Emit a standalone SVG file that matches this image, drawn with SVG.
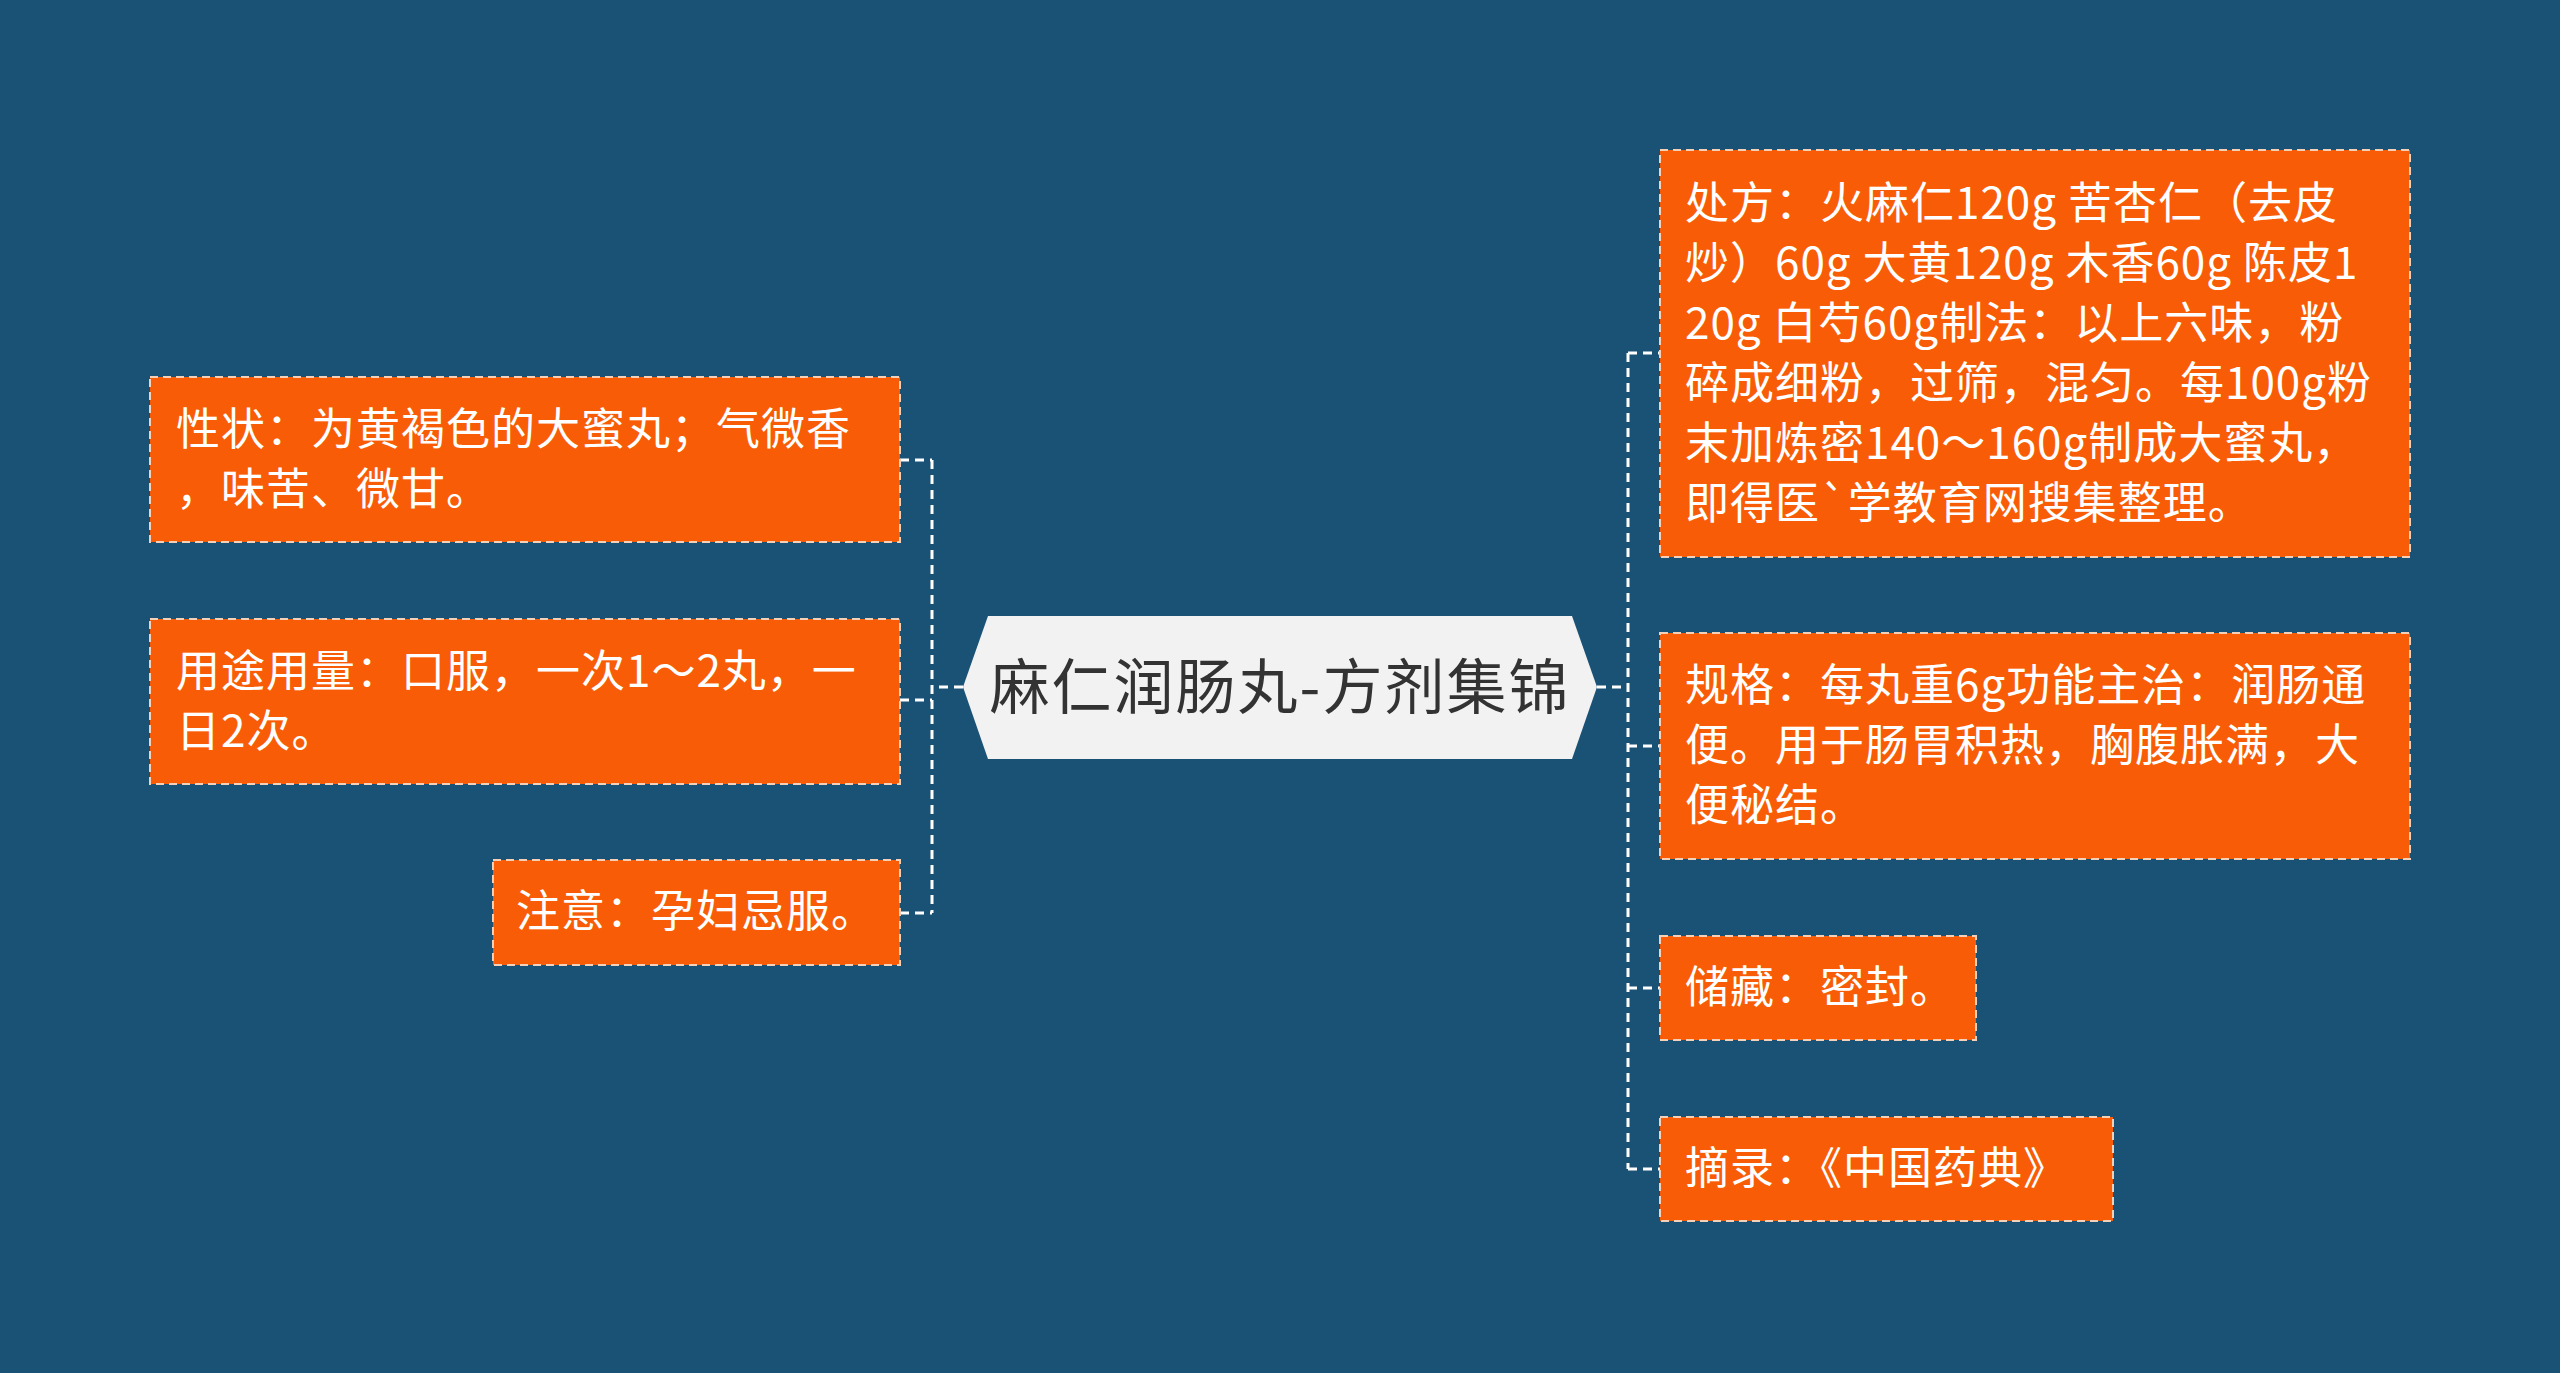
<svg xmlns="http://www.w3.org/2000/svg" width="2560" height="1373" viewBox="0 0 2560 1373">
<style>
.n{fill:#f85c06;stroke:#f5d0b8;stroke-width:2;stroke-dasharray:8,5}
.t{font-family:"Noto Sans CJK SC","Noto Sans",sans-serif;font-size:44px;letter-spacing:1px;fill:#ffffff}
.c{fill:none;stroke:#ffffff;stroke-width:3;stroke-dasharray:9,6}
</style>
<rect width="2560" height="1373" fill="#1a5276"/>
<g id="connectors">
<path class="c" d="M963 687H932M932 460V913M900 460H932M900 700H932M900 913H932"/>
<path class="c" d="M1597 687H1628M1628 353V1169M1628 353H1660M1628 746H1660M1628 988H1660M1628 1169H1660"/>
</g>
<g id="center">
<polygon points="963,687 988,616 1572,616 1597,687 1572,759 988,759" fill="#f2f2f2"/>
<text x="1280" y="709" text-anchor="middle" font-family="Noto Sans CJK SC,sans-serif" font-size="60" letter-spacing="2" fill="#333333">麻仁润肠丸-方剂集锦</text>
</g>
<g id="l1"><rect class="n" x="150" y="377" width="750" height="165"/>
<text class="t" x="176" y="445">性状：为黄褐色的大蜜丸；气微香</text><text class="t" x="176" y="505">，味苦、微甘。</text></g>
<g id="l2"><rect class="n" x="150" y="619" width="750" height="165"/>
<text class="t" x="176" y="687">用途用量：口服，一次1～2丸，一</text><text class="t" x="176" y="747">日2次。</text></g>
<g id="l3"><rect class="n" x="493" y="860" width="407" height="105"/>
<text class="t" x="516" y="927">注意：孕妇忌服。</text></g>
<g id="r1"><rect class="n" x="1660" y="150" width="750" height="407"/>
<text class="t" x="1685" y="219">处方：火麻仁120g 苦杏仁（去皮</text>
<text class="t" x="1685" y="279">炒）60g 大黄120g 木香60g 陈皮1</text>
<text class="t" x="1685" y="339">20g 白芍60g制法：以上六味，粉</text>
<text class="t" x="1685" y="399">碎成细粉，过筛，混匀。每100g粉</text>
<text class="t" x="1685" y="459">末加炼密140～160g制成大蜜丸，</text>
<text class="t" x="1685" y="519">即得医`学教育网搜集整理。</text></g>
<g id="r2"><rect class="n" x="1660" y="633" width="750" height="226"/>
<text class="t" x="1685" y="701">规格：每丸重6g功能主治：润肠通</text>
<text class="t" x="1685" y="761">便。用于肠胃积热，胸腹胀满，大</text>
<text class="t" x="1685" y="821">便秘结。</text></g>
<g id="r3"><rect class="n" x="1660" y="936" width="316" height="104"/>
<text class="t" x="1685" y="1003">储藏：密封。</text></g>
<g id="r4"><rect class="n" x="1660" y="1117" width="453" height="104"/>
<text class="t" x="1685" y="1184">摘录：《中国药典》</text></g>
</svg>
